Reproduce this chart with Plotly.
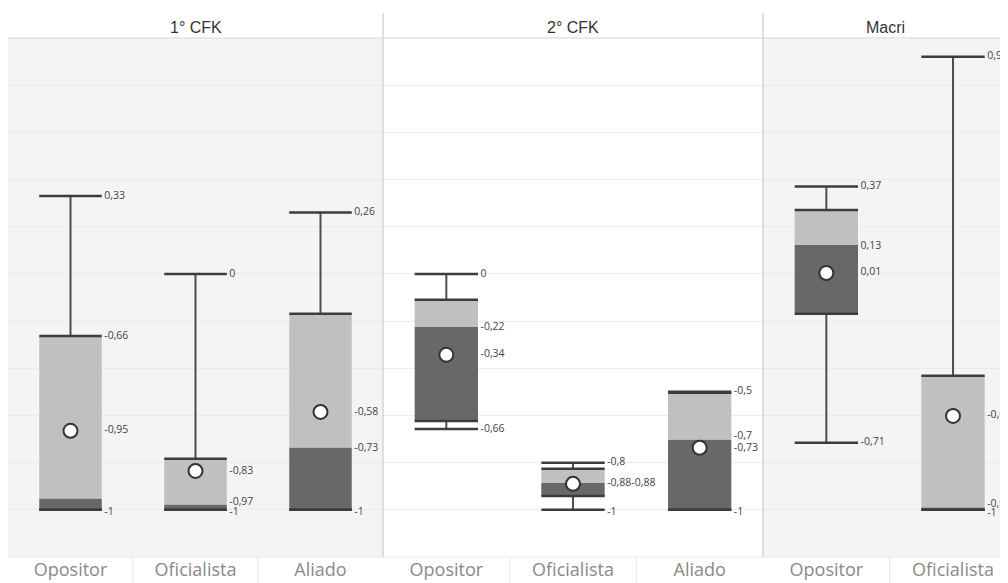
import plotly.graph_objects as go

panels = ["1° CFK", "2° CFK", "Macri"]
categories = ["Opositor", "Oficialista", "Aliado"]

# one entry per box: panel index, category index
box_panel = [0, 0, 0, 1, 1, 1, 2, 2]
box_cat = [0, 1, 2, 0, 1, 2, 0, 1]
whisker_hi = [0.33, 0.00, 0.26, 0.00, -0.80, -0.50, 0.37, 0.92]
q3 = [-0.263, -0.784, -0.169, -0.110, -0.826, -0.504, 0.271, -0.432]
median = [-0.953, -0.979, -0.737, -0.225, -0.886, -0.703, 0.123, -0.99]
q1 = [-1.0, -1.0, -1.0, -0.623, -0.941, -1.0, -0.169, -1.0]
whisker_lo = [-1.0, -1.0, -1.0, -0.657, -1.0, -1.0, -0.716, -1.0]
mean = [-0.665, -0.835, -0.585, -0.343, -0.89, -0.737, 0.004, -0.602]

# value labels: box index, text, value level where it is shown
label_box = [0, 0, 0, 0, 1, 1, 1, 1, 2, 2, 2, 2, 3, 3, 3, 3, 4, 4, 4, 5, 5, 5, 5, 6, 6, 6, 6, 7, 7, 7, 7]
label_text = ["0,33", "-0,66", "-0,95", "-1",
              "0", "-0,83", "-0,97", "-1",
              "0,26", "-0,58", "-0,73", "-1",
              "0", "-0,22", "-0,34", "-0,66",
              "-0,8", "-0,88-0,88", "-1",
              "-0,5", "-0,7", "-0,73", "-1",
              "0,37", "0,13", "0,01", "-0,71",
              "0,92", "-0,6", "-0,99", "-1"]
label_y = [0.33, -0.263, -0.665, -1.01,
           0.0, -0.835, -0.97, -1.01,
           0.26, -0.585, -0.74, -1.01,
           0.0, -0.225, -0.34, -0.657,
           -0.80, -0.886, -1.01,
           -0.50, -0.69, -0.74, -1.01,
           0.37, 0.115, 0.005, -0.716,
           0.92, -0.60, -0.975, -1.015]

# page has an 8px body margin: figure is drawn 8px in from the window corner
OFF = 8
W, H = 1000, 575
px = lambda v: (v - OFF) / W
py = lambda v: (H - (v - OFF)) / H

x_dom = [[px(8), px(383)], [px(383), px(763)], [px(763), 1.0]]
x_rng = [[-0.5, 2.5], [-0.5, 2.5], [-0.5, 1.434]]
y_dom = [py(557), py(38)]

LIGHT = "#c0c0c0"
DARK = "#686868"
LINE = "#4d4d4d"
HALF = 0.25

fig = go.Figure()
axname = ["x", "x2", "x3"]

for p in range(3):
    idx = [i for i in range(len(box_panel)) if box_panel[i] == p]
    xs = [box_cat[i] for i in idx]
    xa = axname[p]
    fig.add_trace(go.Bar(x=xs, base=[median[i] for i in idx],
                         y=[q3[i] - median[i] for i in idx], width=0.5,
                         marker=dict(color=LIGHT, line=dict(width=0)),
                         xaxis=xa, yaxis="y", showlegend=False, hoverinfo="skip"))
    fig.add_trace(go.Bar(x=xs, base=[q1[i] for i in idx],
                         y=[median[i] - q1[i] for i in idx], width=0.5,
                         marker=dict(color=DARK, line=dict(width=0)),
                         xaxis=xa, yaxis="y", showlegend=False, hoverinfo="skip"))
    vx, vy = [], []
    for i in idx:
        c = box_cat[i]
        vx += [c, c, None, c, c, None]
        vy += [q3[i], whisker_hi[i], None, q1[i], whisker_lo[i], None]
    fig.add_trace(go.Scatter(x=vx, y=vy, mode="lines", line=dict(color=LINE, width=2),
                             xaxis=xa, yaxis="y", showlegend=False, hoverinfo="skip"))
    hx, hy = [], []
    for i in idx:
        c = box_cat[i]
        for v in (whisker_hi[i], q3[i], q1[i], whisker_lo[i]):
            hx += [c - HALF, c + HALF, None]
            hy += [v, v, None]
    fig.add_trace(go.Scatter(x=hx, y=hy, mode="lines", line=dict(color="#3c3c3c", width=2.5),
                             xaxis=xa, yaxis="y", showlegend=False, hoverinfo="skip"))
    fig.add_trace(go.Scatter(x=xs, y=[mean[i] for i in idx], mode="markers",
                             marker=dict(size=14, color="white", line=dict(color="#333333", width=2)),
                             xaxis=xa, yaxis="y", showlegend=False, hoverinfo="skip"))
    lx, ly, lt = [], [], []
    for j in range(len(label_box)):
        b = label_box[j]
        if box_panel[b] == p:
            lx.append(box_cat[b] + HALF + 0.02)
            ly.append(label_y[j])
            lt.append(label_text[j])
    fig.add_trace(go.Scatter(x=lx, y=ly, mode="text", text=lt, textposition="middle right",
                             textfont=dict(size=10.5, color="#444444", family="Open Sans"),
                             xaxis=xa, yaxis="y", showlegend=False, hoverinfo="skip"))

shapes = []
bg = ["#f4f4f4", "#ffffff", "#f4f4f4"]
for p in range(3):
    shapes.append(dict(type="rect", xref="paper", yref="paper", x0=x_dom[p][0], x1=x_dom[p][1],
                       y0=y_dom[0], y1=y_dom[1], fillcolor=bg[p], line=dict(width=0), layer="below"))
shapes.append(dict(type="line", xref="paper", yref="paper", x0=px(8), x1=1, y0=y_dom[1], y1=y_dom[1],
                   line=dict(color="#e3e3e3", width=1.5)))
shapes.append(dict(type="line", xref="paper", yref="paper", x0=px(8), x1=1, y0=y_dom[0], y1=y_dom[0],
                   line=dict(color="#e8e8e8", width=1)))
for xv in (383, 763):
    shapes.append(dict(type="line", xref="paper", yref="paper", x0=px(xv), x1=px(xv), y0=y_dom[0], y1=py(13),
                       line=dict(color="#d4d4d4", width=1.5)))
for p in range(3):
    for b in (0.5, 1.5):
        shapes.append(dict(type="line", xref=axname[p], yref="paper", x0=b, x1=b, y0=0, y1=y_dom[0],
                           line=dict(color="#e6e6e6", width=1)))

annotations = []
for p in range(3):
    annotations.append(dict(text=panels[p], xref="paper", yref="paper",
                            x=(x_dom[p][0] + x_dom[p][1]) / 2, y=py(27), xanchor="center", yanchor="middle",
                            showarrow=False, font=dict(size=16, color="#333333", family="Liberation Sans")))

layout = dict(
    width=W, height=H, margin=dict(l=0, r=0, t=0, b=0),
    paper_bgcolor="white", plot_bgcolor="rgba(0,0,0,0)",
    barmode="overlay", showlegend=False,
    shapes=shapes, annotations=annotations,
    yaxis=dict(domain=y_dom, range=[-1.2, 1.0], dtick=0.2, tick0=0, showticklabels=False,
               showgrid=True, gridcolor="#ececec", gridwidth=1, zeroline=False, showline=False,
               anchor="x", fixedrange=True),
)
for p in range(3):
    key = "xaxis" if p == 0 else "xaxis%d" % (p + 1)
    layout[key] = dict(domain=x_dom[p], range=x_rng[p], anchor="y",
                       tickmode="array", tickvals=[0, 1, 2], ticktext=categories,
                       tickfont=dict(size=18, color="#8a8a8a", family="Open Sans"),
                       ticks="", ticklabelstandoff=0, showgrid=False, zeroline=False, showline=False,
                       fixedrange=True)

fig.update_layout(**layout)
fig.write_html("out.html")
